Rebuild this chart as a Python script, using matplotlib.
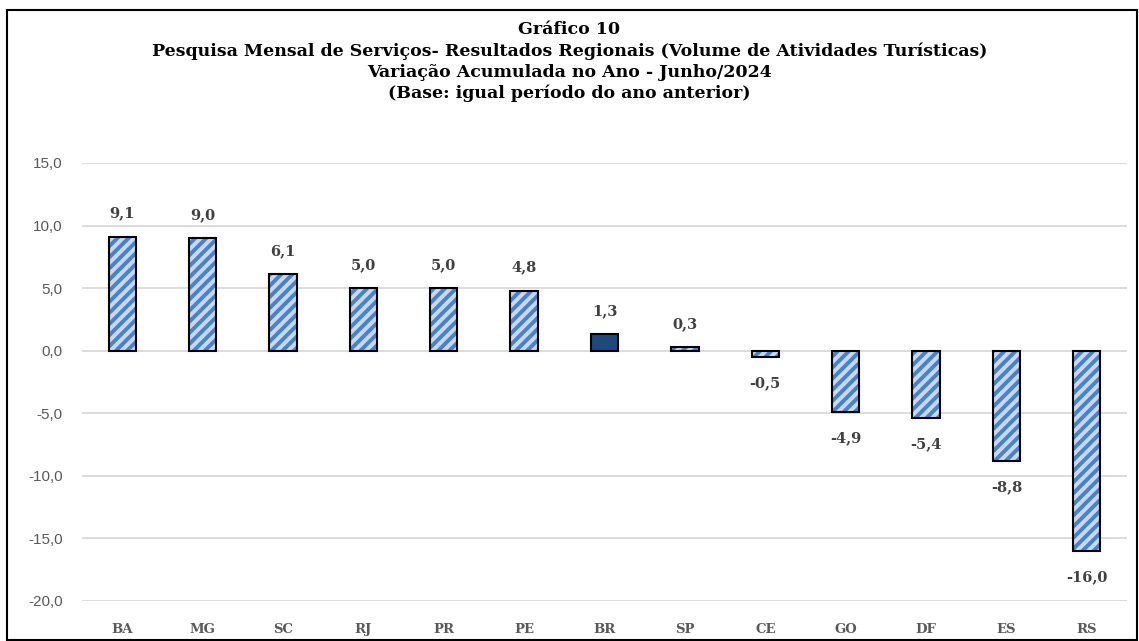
import matplotlib
matplotlib.use("Agg")
import matplotlib.pyplot as plt
from matplotlib.patches import Rectangle

# dados do grafico
ufs = ["BA", "MG", "SC", "RJ", "PR", "PE", "BR", "SP", "CE", "GO", "DF", "ES", "RS"]
valores = [9.1, 9.0, 6.1, 5.0, 5.0, 4.8, 1.3, 0.3, -0.5, -4.9, -5.4, -8.8, -16.0]
yticks = [15, 10, 5, 0, -5, -10, -15, -20]
titulo = ("Gráfico 10\n"
          "Pesquisa Mensal de Serviços- Resultados Regionais (Volume de Atividades Turísticas)\n"
          "Variação Acumulada no Ano - Junho/2024\n"
          "(Base: igual período do ano anterior)")

def fmt(v):
    return f"{v:.1f}".replace(".", ",")

plt.rcParams["hatch.linewidth"] = 2.8

fig = plt.figure(figsize=(11.39, 6.41), dpi=100)
ax = fig.add_axes([82 / 1139, 40 / 641, 1045 / 1139, 438 / 641])

x = list(range(len(ufs)))
fill = ["#1f497d" if u == "BR" else "#c6d9f1" for u in ufs]
hatch = ["" if u == "BR" else "///" for u in ufs]

# preenchimento hachurado e depois contorno preto por cima
for xi, v, fc, h in zip(x, valores, fill, hatch):
    ax.bar(xi, v, width=0.34, color=fc, hatch=h, edgecolor="#4a82c6", linewidth=0, zorder=2)
ax.bar(x, valores, width=0.34, fill=False, edgecolor="black", linewidth=1.5, zorder=3)

for xi, v in zip(x, valores):
    off = 1.85 if v >= 0 else -2.1
    ax.text(xi, v + off, fmt(v), ha="center", va="center", fontsize=10.5,
            fontweight="bold", family="DejaVu Serif", color="#404040")

ax.set_xlim(-0.5, len(ufs) - 0.5)
ax.set_ylim(-20, 15)
ax.set_yticks(yticks)
ax.set_yticklabels([fmt(t) for t in yticks], fontsize=11, color="#595959",
                   family="Liberation Sans")
ax.set_xticks(x)
ax.set_xticklabels(ufs, fontsize=9.5, fontweight="bold", color="#595959",
                   family="DejaVu Serif")
ax.tick_params(axis="both", length=0)
ax.tick_params(axis="x", pad=16)
ax.tick_params(axis="y", pad=14)
ax.yaxis.grid(True, color="#d9d9d9", linewidth=1.3, zorder=0)
ax.set_axisbelow(True)
for s in ax.spines.values():
    s.set_visible(False)

fig.text(0.5, 0.904, titulo, ha="center", va="center", fontsize=12.5,
         fontweight="bold", family="DejaVu Serif", linespacing=1.31)

fig.patches.append(Rectangle((7 / 1139, 0.001), 1 - 7 / 1139 - 0.002, 1 - 10 / 641 - 0.001,
                             transform=fig.transFigure, fill=False,
                             edgecolor="black", linewidth=1.5))

fig.savefig("out.png", dpi=100)
